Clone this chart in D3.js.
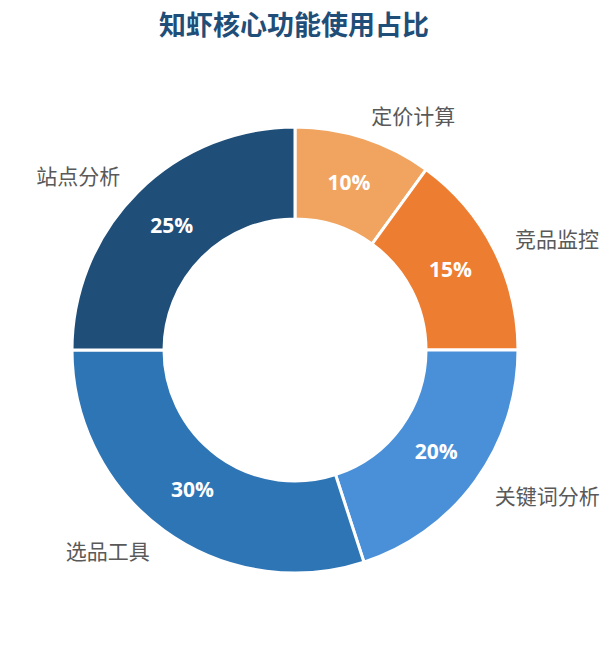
<!DOCTYPE html>
<html>
<head>
<meta charset="utf-8">
<script src="https://cdn.jsdelivr.net/npm/d3@7"></script>
<style>
html,body{margin:0;padding:0;background:#fff;}
svg{display:block;}
</style>
</head>
<body>
<svg id="chart" width="614" height="645"></svg>
<script>
const title = "知虾核心功能使用占比";
const categories = ["定价计算", "竞品监控", "关键词分析", "选品工具", "站点分析"];
const values = [10, 15, 20, 30, 25];
const colors = ["#F0A460", "#ED7D31", "#4A90D9", "#2E75B6", "#1F4E79"];

const W = 614, H = 645;
const cx = 295, cy = 350;
const R = 223, r = 131, labelR = 247, pctR = 174.5;

const svg = d3.select("#chart");

svg.append("text")
  .attr("x", 294).attr("y", 28)
  .attr("text-anchor", "middle")
  .attr("dominant-baseline", "middle")
  .attr("font-family", "'Noto Sans CJK SC', sans-serif")
  .attr("font-weight", "bold")
  .attr("font-size", 27)
  .attr("fill", "#1F4E79")
  .text(title);

const data = categories.map((c, i) => ({ name: c, value: values[i], color: colors[i] }));
const total = d3.sum(values);

const pie = d3.pie().value(d => d.value).sort(null).startAngle(0).endAngle(2 * Math.PI);
const arcs = pie(data);
const arc = d3.arc().innerRadius(r).outerRadius(R);
const pctArc = d3.arc().innerRadius(pctR).outerRadius(pctR);

const g = svg.append("g").attr("transform", `translate(${cx},${cy})`);

g.selectAll("path.slice").data(arcs).enter().append("path")
  .attr("class", "slice")
  .attr("d", arc)
  .attr("fill", d => d.data.color)
  .attr("stroke", "#fff")
  .attr("stroke-width", 3)
  .attr("stroke-linejoin", "round");

g.selectAll("text.pct").data(arcs).enter().append("text")
  .attr("class", "pct")
  .attr("transform", d => { const c = pctArc.centroid(d); return `translate(${c[0]},${c[1] - 2})`; })
  .attr("text-anchor", "middle")
  .attr("dominant-baseline", "central")
  .attr("font-family", "'Open Sans', sans-serif")
  .attr("font-weight", "bold")
  .attr("font-size", 21)
  .attr("fill", "#fff")
  .text(d => Math.round(d.data.value / total * 100) + "%");

g.selectAll("text.lbl").data(arcs).enter().append("text")
  .attr("class", "lbl")
  .each(function(d) {
    const a = (d.startAngle + d.endAngle) / 2;
    const x = labelR * Math.sin(a), y = -labelR * Math.cos(a);
    d3.select(this)
      .attr("x", x).attr("y", y)
      .attr("text-anchor", Math.sin(a) >= 0 ? "start" : "end");
  })
  .attr("dominant-baseline", "central")
  .attr("font-family", "'Noto Sans CJK SC', sans-serif")
  .attr("font-size", 21)
  .attr("fill", "#595959")
  .text(d => d.data.name);
</script>
</body>
</html>
